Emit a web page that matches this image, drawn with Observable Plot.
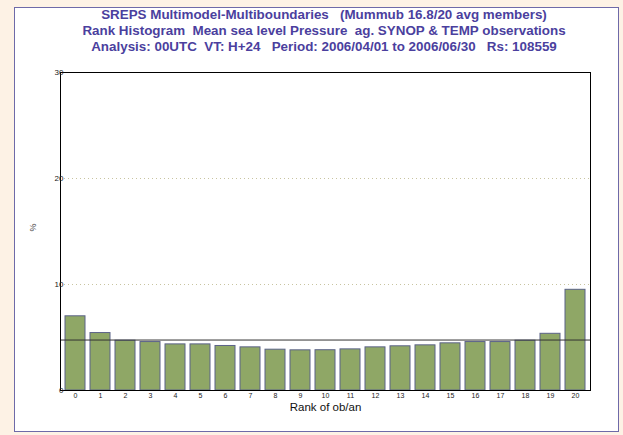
<!DOCTYPE html>
<html><head><meta charset="utf-8">
<script src="https://cdn.jsdelivr.net/npm/d3@7"></script>
<script src="https://cdn.jsdelivr.net/npm/@observablehq/plot@0.6"></script>
<style>
body{margin:0;background:#fdf2e5;width:623px;height:435px;overflow:hidden;position:relative;font-family:"Liberation Sans",Arial,sans-serif}
#panel{position:absolute;left:14px;top:7px;width:603px;height:423px;border:1.5px solid #6e6aa8;background:#fff}
#title{position:absolute;left:0;width:648px;top:7px;text-align:center;color:#4b3f9e;font-weight:bold;font-size:13.4px;line-height:16px;white-space:pre}
#chart{position:absolute;left:0;top:60px}
#chart svg{overflow:visible}
</style></head><body>
<div id="panel"></div>
<div id="title"></div>
<div id="chart"></div>
<script>
const titleLines = [
  "SREPS Multimodel-Multiboundaries   (Mummub 16.8/20 avg members)",
  "Rank Histogram  Mean sea level Pressure  ag. SYNOP & TEMP observations",
  "Analysis: 00UTC  VT: H+24   Period: 2006/04/01 to 2006/06/30   Rs: 108559"
];
const ranks = [0,1,2,3,4,5,6,7,8,9,10,11,12,13,14,15,16,17,18,19,20];
const percents = [7.0,5.42,4.7,4.57,4.35,4.35,4.2,4.07,3.85,3.79,3.8,3.88,4.07,4.17,4.26,4.45,4.57,4.57,4.7,5.35,9.5];
const expected = 4.76;
const yTicks = [0,10,20,30];
const gridTicks = [10,20];
const xLabel = "Rank of ob/an";
const yLabel = "%";

document.getElementById("title").textContent = titleLines.join("\n");

const data = ranks.map((r,i) => ({rank: r, pct: percents[i]}));

const chart = Plot.plot({
  width: 623,
  height: 375,
  marginTop: 12,
  marginBottom: 45,
  marginLeft: 60,
  marginRight: 33,
  style: {background: "transparent", fontFamily: "'Liberation Sans', Arial, sans-serif", color: "#222"},
  x: {type: "band", domain: ranks, paddingInner: 0.2, paddingOuter: 0.1},
  y: {domain: [0, 30]},
  marks: [
    Plot.gridY(gridTicks, {stroke: "#c8c4a0", strokeOpacity: 1, strokeDasharray: "1,3"}),
    Plot.barY(data, {x: "rank", y: "pct", fill: "#8fa766", stroke: "#5b6288", strokeWidth: 1}),
    Plot.ruleY([expected], {stroke: "#333", strokeWidth: 1}),
    Plot.frame({stroke: "#000", strokeWidth: 1}),
    Plot.axisY({ticks: yTicks, tickSize: 0, tickPadding: 0, dx: 3, fontSize: 8, label: null, fill: "#222"}),
    Plot.axisX({tickSize: 0, tickPadding: 3, fontSize: 7, label: null, fill: "#222"}),
    Plot.text([xLabel], {frameAnchor: "bottom", dy: 12, lineAnchor: "top", fontSize: 11.5, fill: "#111"}),
    Plot.text([yLabel], {frameAnchor: "left", dx: -27, rotate: -90, fontSize: 9, fill: "#444"})
  ]
});
document.getElementById("chart").appendChild(chart);
</script>
</body></html>
